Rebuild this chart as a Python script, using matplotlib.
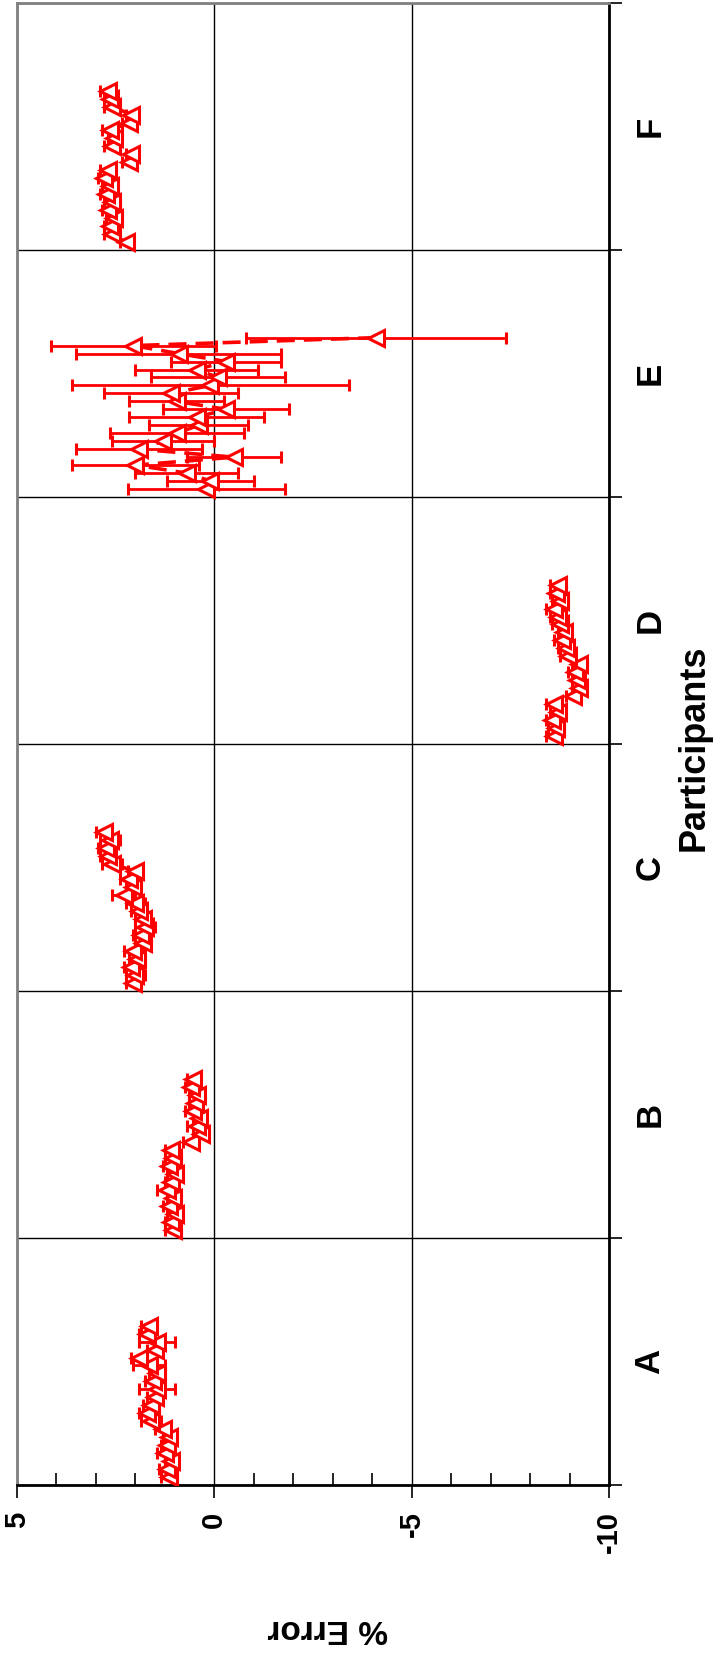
import numpy as np
import matplotlib
matplotlib.use('Agg')
import matplotlib.pyplot as plt
from matplotlib.ticker import MultipleLocator

plt.rcParams['font.family'] = ['Liberation Sans', 'DejaVu Sans']

participants = ['A', 'B', 'C', 'D', 'E', 'F']
band = 31  # sample slots per participant on the category axis

# % error per sample, first sample first
err_A = [1.15, 1.2, 1.1, 1.25, 1.2, 1.15, 1.3, 1.6, 1.7, 1.6,
         1.5, 1.45, 1.55, 1.45, 1.65, 1.9, 1.5, 1.45, 1.7, 1.65]
sd_A = [0.2, 0.2, 0.15, 0.2, 0.15, 0.15, 0.2, 0.25, 0.2, 0.2,
        0.2, 0.45, 0.2, 0.2, 0.4, 0.2, 0.2, 0.45, 0.2, 0.2]

err_B = [1.05, 1.1, 1.0, 1.15, 1.05, 1.2, 1.1, 1.0, 1.15, 1.05,
         1.1, 0.6, 0.35, 0.45, 0.4, 0.55, 0.5, 0.45, 0.6, 0.55]
sd_B = [0.2, 0.15, 0.2, 0.15, 0.15, 0.25, 0.15, 0.2, 0.15, 0.2,
        0.15, 0.2, 0.2, 0.25, 0.15, 0.2, 0.15, 0.2, 0.15, 0.15]

err_C = [2.05, 2.0, 2.1, 1.95, 2.05, 1.8, 1.85, 1.75, 1.8, 1.9,
         2.0, 2.3, 2.05, 2.15, 2.0, 2.6, 2.7, 2.75, 2.65, 2.8]
sd_C = [0.2, 0.25, 0.2, 0.2, 0.25, 0.2, 0.2, 0.25, 0.2, 0.2,
        0.25, 0.3, 0.2, 0.25, 0.2, 0.25, 0.2, 0.2, 0.25, 0.2]

err_D = [-8.6, -8.65, -8.55, -8.7, -8.6, -9.1, -9.25, -9.2, -9.15, -9.25,
         -8.95, -8.9, -8.8, -8.85, -8.75, -8.7, -8.6, -8.75, -8.65, -8.7]
sd_D = [0.2, 0.2, 0.15, 0.2, 0.2, 0.2, 0.2, 0.15, 0.2, 0.2,
        0.2, 0.2, 0.2, 0.15, 0.2, 0.2, 0.2, 0.2, 0.15, 0.2]

err_E = [0.2, 0.1, 0.7, 2.0, -0.5, 1.9, 1.3, 0.95, 0.4, 0.45,
         -0.3, 0.95, 1.1, 0.1, -0.1, 0.45, -0.3, 0.9, 2.05, -4.1]
sd_E = [2.0, 1.1, 1.3, 1.6, 1.2, 1.6, 1.3, 1.7, 1.25, 1.7,
        1.6, 1.2, 1.7, 3.5, 1.7, 1.55, 1.4, 2.6, 2.1, 3.3]

err_F = [2.25, 2.6, 2.65, 2.55, 2.7, 2.6, 2.75, 2.65, 2.8, 2.7,
         2.15, 2.1, 2.6, 2.55, 2.65, 2.15, 2.1, 2.6, 2.65, 2.7]
sd_F = [0.15, 0.2, 0.15, 0.2, 0.15, 0.2, 0.15, 0.2, 0.15, 0.2,
        0.2, 0.15, 0.2, 0.15, 0.2, 0.2, 0.15, 0.2, 0.15, 0.2]

values = [err_A, err_B, err_C, err_D, err_E, err_F]
errors = [sd_A, sd_B, sd_C, sd_D, sd_E, sd_F]

RED = '#ff0000'

fig = plt.figure(figsize=(7.18, 16.59), dpi=100)
ax = fig.add_axes([17 / 718, 1 - 1485 / 1659, 592 / 718, 1482 / 1659])

for i, (vals, sds) in enumerate(zip(values, errors)):
    pos = i * band + np.arange(1, len(vals) + 1)
    ax.errorbar(vals, pos, xerr=sds, color=RED, ecolor=RED, elinewidth=2,
                capsize=4.5, capthick=2, linestyle=(0, (5, 2.5)), linewidth=2.6,
                marker='<', markersize=11, markerfacecolor='white',
                markeredgecolor=RED, markeredgewidth=2.2, zorder=3)

ax.set_xlim(5, -10)
ax.set_ylim(0, band * len(participants))

ax.set_xticks([5, 0, -5, -10])
ax.set_xticklabels(['5', '0', '-5', '-10'], rotation=90, fontsize=21,
                   fontweight='bold')
ax.xaxis.set_minor_locator(MultipleLocator(1))
ax.tick_params(axis='x', which='major', direction='out', length=9, width=1.2,
               pad=10)
ax.tick_params(axis='x', which='minor', direction='in', length=9, width=1.2)

ax.yaxis.tick_right()
ax.set_yticks(np.arange(0, band * len(participants) + 1, band))
ax.set_yticklabels([])
ax.tick_params(axis='y', direction='out', length=9, width=1.2)

ax.grid(True, which='major', color='black', linewidth=1.0)

for side in ['top', 'left']:
    ax.spines[side].set_color('#808080')
    ax.spines[side].set_linewidth(2)
for side in ['right', 'bottom']:
    ax.spines[side].set_color('black')
    ax.spines[side].set_linewidth(2)

for i, name in enumerate(participants):
    ax.text(1.069, (i + 0.5) * band, name, transform=ax.get_yaxis_transform(),
            rotation=90, fontsize=25, fontweight='bold', ha='center', va='center')

fig.text(694 / 718, 1 - 748 / 1659, 'Participants', rotation=90, fontsize=26,
         fontweight='bold', ha='center', va='center')
fig.text(328 / 718, 1 - 1628 / 1659, '% Error', rotation=180, fontsize=24,
         fontweight='bold', ha='center', va='center')

fig.savefig('out.png', dpi=100, facecolor='white')
